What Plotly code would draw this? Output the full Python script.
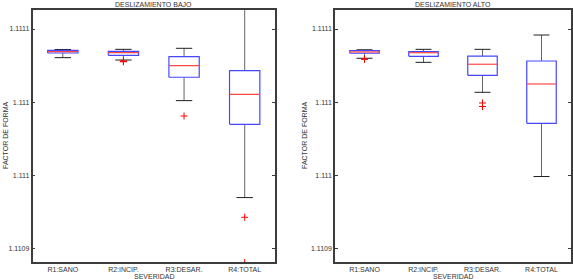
import plotly.graph_objects as go

# ---------------- data ----------------
categories = ["R1:SANO", "R2:INCIP.", "R3:DESAR.", "R4:TOTAL"]

bajo_lower = [1.1110304, 1.1110288, 1.1110010, 1.1109347]
bajo_q1 = [1.1110336, 1.1110320, 1.1110170, 1.1109848]
bajo_med = [1.1110345, 1.1110338, 1.1110249, 1.1110053]
bajo_q3 = [1.1110354, 1.1110347, 1.1110311, 1.1110216]
bajo_upper = [1.1110360, 1.1110361, 1.1110368, 1.1110700]
bajo_out = [[], [1.1110282, 1.1110279, 1.1110276], [1.1109905], [1.1109212, 1.1108903]]

alto_lower = [1.1110300, 1.1110272, 1.1110067, 1.1109491]
alto_q1 = [1.1110334, 1.1110313, 1.1110183, 1.1109855]
alto_med = [1.1110343, 1.1110338, 1.1110259, 1.1110124]
alto_q3 = [1.1110352, 1.1110345, 1.1110315, 1.1110281]
alto_upper = [1.1110358, 1.1110361, 1.1110361, 1.1110459]
alto_out = [[1.1110295, 1.1110293], [], [1.1109994, 1.1109970], []]

ytick_vals = [1.11090, 1.11095, 1.11100, 1.11105]
ytick_text = ["1.1109", "1.111", "1.111", "1.1111"]

titles = ["DESLIZAMIENTO BAJO", "DESLIZAMIENTO ALTO"]
xlabel = "SEVERIDAD"
ylabel = "FACTOR DE FORMA"

# ---------------- style ----------------
BOX_C = "rgb(70,70,255)"
MED_C = "rgb(255,70,70)"
WH_C = "rgb(100,100,100)"
CAP_C = "rgb(30,30,30)"
TXT_C = "#333"
HW = 0.25   # box half width
CW = 0.135  # cap half width
FONT = "Arial, Liberation Sans, sans-serif"
W, H = 573, 279

fig = go.Figure()


def add_panel(xa, ya, lower, q1, med, q3, upper, outs):
    wx, wy, cx, cy, bx, by, mx, my, ox, oy = [], [], [], [], [], [], [], [], [], []
    for i in range(len(categories)):
        x = i + 1
        wx += [x, x, None, x, x, None]
        wy += [lower[i], q1[i], None, q3[i], upper[i], None]
        cx += [x - CW, x + CW, None, x - CW, x + CW, None]
        cy += [lower[i], lower[i], None, upper[i], upper[i], None]
        bx += [x - HW, x + HW, x + HW, x - HW, x - HW, None]
        by += [q1[i], q1[i], q3[i], q3[i], q1[i], None]
        mx += [x - HW, x + HW, None]
        my += [med[i], med[i], None]
        for v in outs[i]:
            ox.append(x)
            oy.append(v)
    common = dict(xaxis=xa, yaxis=ya, showlegend=False, hoverinfo="skip")
    fig.add_trace(go.Scatter(x=wx, y=wy, mode="lines", line=dict(color=WH_C, width=1), **common))
    fig.add_trace(go.Scatter(x=cx, y=cy, mode="lines", line=dict(color=CAP_C, width=1), **common))
    fig.add_trace(go.Scatter(x=bx, y=by, mode="lines", line=dict(color=BOX_C, width=1.2), **common))
    fig.add_trace(go.Scatter(x=mx, y=my, mode="lines", line=dict(color=MED_C, width=1.2), **common))
    fig.add_trace(go.Scatter(x=ox, y=oy, mode="markers",
                             marker=dict(symbol="cross-thin", size=5, line=dict(color="red", width=1)),
                             **common))


add_panel("x", "y", bajo_lower, bajo_q1, bajo_med, bajo_q3, bajo_upper, bajo_out)
add_panel("x2", "y2", alto_lower, alto_q1, alto_med, alto_q3, alto_upper, alto_out)

top, bottom = 10, 262
ydom = [1 - bottom / H, 1 - top / H]
doms = [[32.5 / W, 275 / W], [335 / W, 571 / W]]
yrange = [1.11089063, 1.11106300]

axis_line = dict(showline=True, linecolor="rgb(60,60,60)", linewidth=1.5, mirror=True,
                 showgrid=False, zeroline=False)
tickfont = dict(family=FONT, size=7, color=TXT_C)

layout = dict(
    width=W, height=H, margin=dict(l=0, r=0, t=0, b=0),
    paper_bgcolor="white", plot_bgcolor="white",
    font=dict(family=FONT, size=7, color=TXT_C),
)
for k, (xa, ya) in enumerate([("xaxis", "yaxis"), ("xaxis2", "yaxis2")]):
    layout[xa] = dict(domain=doms[k], range=[0.5, 4.5], tickvals=[1, 2, 3, 4], ticktext=categories,
                      ticks="", tickfont=tickfont, anchor="y" if k == 0 else "y2", **axis_line)
    layout[ya] = dict(domain=ydom, range=yrange, tickvals=ytick_vals, ticktext=ytick_text,
                      ticks="inside", ticklen=3, tickcolor="rgb(60,60,60)", tickfont=tickfont,
                      anchor="x" if k == 0 else "x2", **axis_line)
fig.update_layout(**layout)
fig.update_yaxes(mirror="ticks")

ann = []
for k in range(2):
    cxp = (doms[k][0] + doms[k][1]) / 2
    ann.append(dict(text=titles[k], x=cxp, y=1 - 4.5 / H, xref="paper", yref="paper",
                    showarrow=False, font=dict(family=FONT, size=7, color=TXT_C),
                    xanchor="center", yanchor="middle"))
    ann.append(dict(text=xlabel, x=cxp, y=1 - 276 / H, xref="paper", yref="paper",
                    showarrow=False, font=dict(family=FONT, size=7, color=TXT_C),
                    xanchor="center", yanchor="middle"))
ylab_x = [6 / W, 305 / W]
for k in range(2):
    ann.append(dict(text=ylabel, x=ylab_x[k], y=(ydom[0] + ydom[1]) / 2, xref="paper", yref="paper",
                    showarrow=False, textangle=-90, font=dict(family=FONT, size=7, color=TXT_C),
                    xanchor="center", yanchor="middle"))
fig.update_layout(annotations=ann)

fig.write_html("out.html")
